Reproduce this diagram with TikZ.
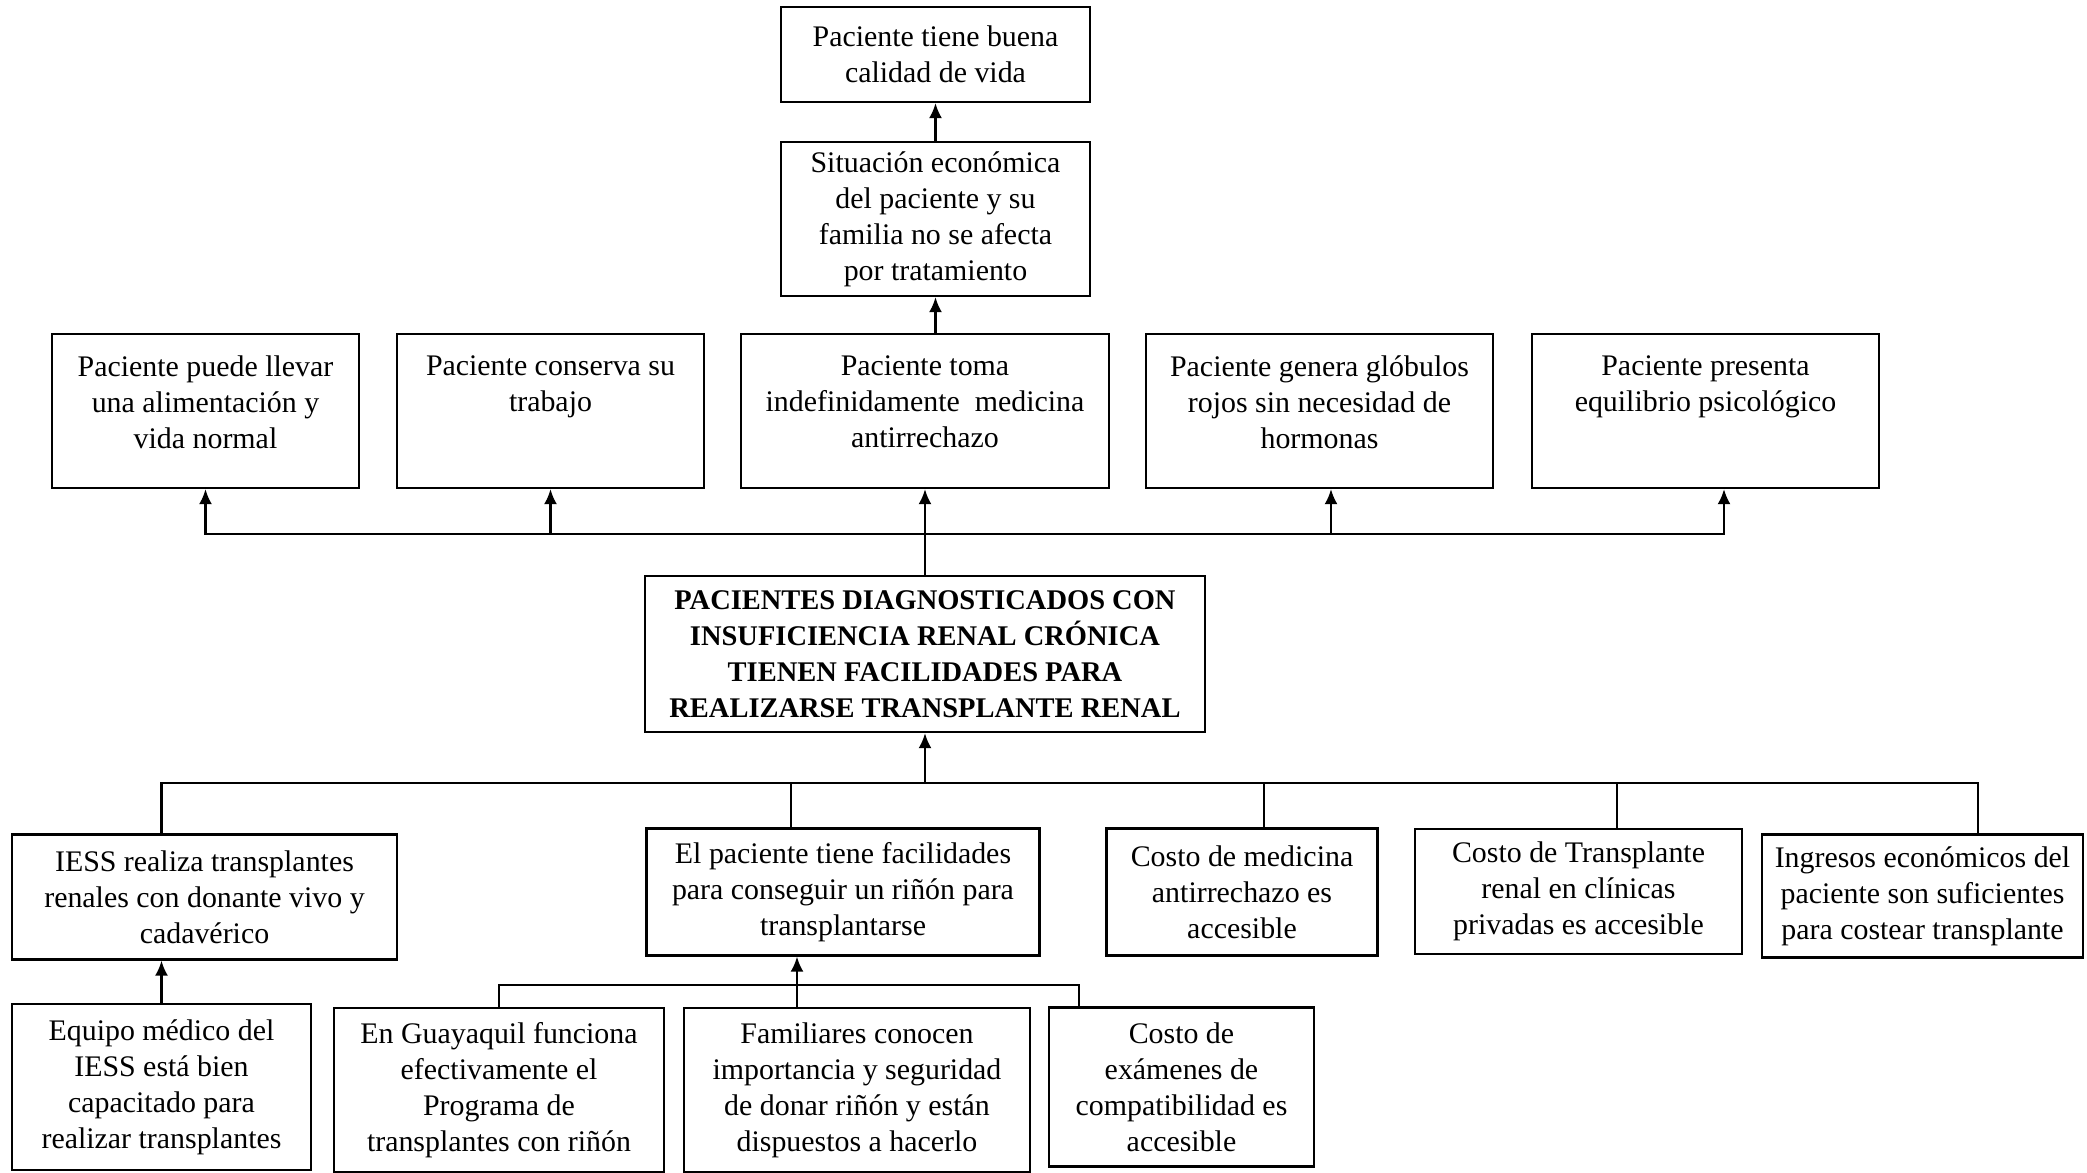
\documentclass[tikz,border=0pt]{standalone}
\usepackage{fontspec}
\setmainfont{Liberation Serif}
\usetikzlibrary{arrows.meta}

\begin{document}
\begin{tikzpicture}[x=0.01cm, y=-0.01cm, font=\fontsize{8.5}{10.2}\selectfont,
  box/.style={draw, line width=0.65pt, align=center, inner sep=0pt},
  effect/.style={draw, line width=0.65pt, inner sep=0pt, minimum width=#1, minimum height=1.54cm,
    execute at begin node={\begin{minipage}[t][1.54cm][t]{#1}\centering\vspace*{0.22cm}},
    execute at end node={\end{minipage}}},
  link/.style={line width=0.6pt},
  arr/.style={link, -{Latex[length=1.5mm,width=1.3mm]}}]
  \useasboundingbox (0,0) rectangle (2087,1173);
  \node (0) [box, minimum width=3.09cm, minimum height=0.95cm] at (935.5,54.5) {Paciente tiene buena\\calidad de vida};
  \node (1) [box, minimum width=3.09cm, minimum height=1.54cm] at (935.5,219) {Situación económica\\del paciente y su\\familia no se afecta\\por tratamiento};
  \node (2) [effect=3.07cm] at (205.5,411) {Paciente puede llevar\\una alimentación y\\vida normal};
  \node (3) [effect=3.07cm] at (550.5,411) {Paciente conserva su\\trabajo};
  \node (4) [effect=3.68cm] at (925,411) {Paciente toma\\indefinidamente\ \ medicina\\antirrechazo};
  \node (5) [effect=3.47cm] at (1319.5,411) {Paciente genera glóbulos\\rojos sin necesidad de\\hormonas};
  \node (6) [effect=3.47cm] at (1705.5,411) {Paciente presenta\\equilibrio psicológico};
  \node (7) [box, font=\fontsize{8.1}{10.2}\selectfont\bfseries, minimum width=5.59cm, minimum height=1.56cm] at (925,654) {PACIENTES DIAGNOSTICADOS CON\\INSUFICIENCIA RENAL CRÓNICA\\TIENEN FACILIDADES PARA\\REALIZARSE TRANSPLANTE RENAL};
  \node (8) [box, minimum width=3.85cm, minimum height=1.25cm] at (204.5,897) {IESS realiza transplantes\\renales con donante vivo y\\cadavérico};
  \node (9) [box, minimum width=3.93cm, minimum height=1.27cm] at (843,892) {El paciente tiene facilidades\\para conseguir un riñón para\\transplantarse};
  \node (10) [box, minimum width=2.71cm, minimum height=1.27cm] at (1242,892) {Costo de medicina\\antirrechazo es\\accesible};
  \node (11) [box, minimum width=3.27cm, minimum height=1.25cm] at (1578.5,891.5) {Costo de Transplante\\renal en clínicas\\privadas es accesible};
  \node (12) [box, minimum width=3.21cm, minimum height=1.23cm] at (1922.5,896) {Ingresos económicos del\\paciente son suficientes\\para costear transplante};
  \node (13) [box, minimum width=2.99cm, minimum height=1.66cm] at (161.5,1087) {Equipo médico del\\IESS está bien\\capacitado para\\realizar transplantes};
  \node (14) [box, minimum width=3.30cm, minimum height=1.64cm] at (499,1090) {En Guayaquil funciona\\efectivamente el\\Programa de\\transplantes con riñón};
  \node (15) [box, minimum width=3.46cm, minimum height=1.64cm] at (857,1090) {Familiares conocen\\importancia y seguridad\\de donar riñón y están\\dispuestos a hacerlo};
  \node (16) [box, minimum width=2.65cm, minimum height=1.59cm] at (1181.5,1087) {Costo de\\exámenes de\\compatibilidad es\\accesible};
  \coordinate (u) at (925,534);
  \coordinate (v) at (925,783);
  \coordinate (w) at (797,985);
  \draw[arr] (1) -- (0);
  \draw[arr] (4.north -| 1) -- (1);
  \draw[arr] (7) -- (4);
  \draw[arr] (u) -| (2);
  \draw[arr] (u) -| (3);
  \draw[arr] (u) -| ([xshift=0.115cm]5.south);
  \draw[arr] (u) -| ([xshift=0.185cm]6.south);
  \draw[arr] (v) -- (7);
  \draw[link] (v) -| (8.north -| 13);
  \draw[link] (v) -| ([xshift=-0.52cm]9.north);
  \draw[link] (v) -| ([xshift=0.22cm]10.north);
  \draw[link] (v) -| ([xshift=0.385cm]11.north);
  \draw[link] (v) -| ([xshift=0.555cm]12.north);
  \draw[arr] (13) -- (8.south -| 13);
  \draw[arr] (15.north -| w) -- (9.south -| w);
  \draw[link] (w) -| (14);
  \draw[link] (w) -| ([xshift=-1.025cm]16.north);
\end{tikzpicture}
\end{document}
